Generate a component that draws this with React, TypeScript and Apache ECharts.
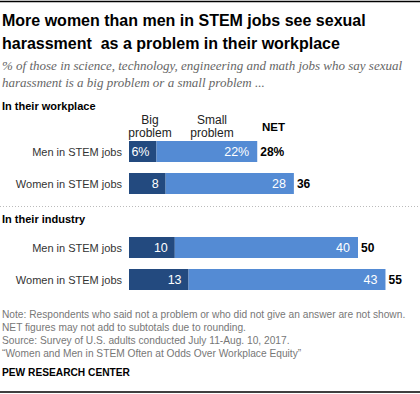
import React, { useEffect, useRef } from "react";
import * as echarts from "echarts";

const categories = ["Men in STEM jobs", "Women in STEM jobs"];
const workplaceBig = [6, 8];
const workplaceSmall = [22, 28];
const workplaceNet = [28, 36];
const industryBig = [10, 13];
const industrySmall = [40, 43];
const industryNet = [50, 55];

const DARK = "#234a7f";
const LIGHT = "#548bd4";
const FONT = "'Liberation Sans', Arial, sans-serif";

function seriesFor(idx: number, big: number[], small: number[], net: number[], pct: boolean) {
  const stack = "s" + idx;
  return [
    {
      type: "bar",
      xAxisIndex: idx,
      yAxisIndex: idx,
      stack,
      barWidth: 21,
      data: big,
      itemStyle: { color: DARK },
      label: {
        show: true,
        position: "insideRight",
        distance: 7,
        color: "#fff",
        fontSize: 12.5,
        fontFamily: FONT,
        formatter: (p: any) => (pct && p.dataIndex === 0 ? p.value + "%" : String(p.value)),
      },
    },
    {
      type: "bar",
      xAxisIndex: idx,
      yAxisIndex: idx,
      stack,
      barWidth: 21,
      data: small,
      itemStyle: { color: LIGHT },
      label: {
        show: true,
        position: "insideRight",
        distance: 8,
        color: "#fff",
        fontSize: 12.5,
        fontFamily: FONT,
        formatter: (p: any) => (pct && p.dataIndex === 0 ? p.value + "%" : String(p.value)),
      },
    },
    {
      type: "bar",
      xAxisIndex: idx,
      yAxisIndex: idx,
      stack,
      barWidth: 21,
      data: net.map(() => 0.001),
      itemStyle: { color: "transparent" },
      label: {
        show: true,
        position: "right",
        distance: 3,
        color: "#000",
        fontWeight: "bold",
        fontSize: 12,
        fontFamily: FONT,
        formatter: (p: any) => (pct && p.dataIndex === 0 ? net[p.dataIndex] + "%" : String(net[p.dataIndex])),
      },
    },
  ];
}

export default function App() {
  const ref = useRef<HTMLDivElement>(null);
  useEffect(() => {
    const chart = echarts.init(ref.current!, null, { renderer: "svg" });
    const grids = [
      { left: 129, width: 274.8, top: 135.5, height: 64 },
      { left: 129, width: 274.8, top: 231.5, height: 64 },
    ];
    const xAxis = grids.map((_, i) => ({
      type: "value",
      gridIndex: i,
      min: 0,
      max: 60,
      show: false,
    }));
    const yAxis = grids.map((_, i) => ({
      type: "category",
      gridIndex: i,
      data: categories,
      inverse: true,
      axisLine: { show: false },
      axisTick: { show: false },
      axisLabel: { color: "#333", fontSize: 11, fontFamily: FONT, margin: 7 },
    }));
    const txt = (x: number, y: number, text: string, style: any) => ({
      type: "text",
      x,
      y,
      style: { text, fontFamily: FONT, textVerticalAlign: "middle", verticalAlign: "middle", ...style },
    });
    const serif = { fontSize: 13, fontStyle: "italic", fontFamily: "'Liberation Serif', serif", fill: "#666" };
    const note = { fontSize: 10.2, fill: "#777" };
    const head = { fontSize: 12, fill: "#222", align: "center", textAlign: "center" };
    chart.setOption({
      animation: false,
      grid: grids,
      xAxis,
      yAxis,
      series: [
        ...seriesFor(0, workplaceBig, workplaceSmall, workplaceNet, true),
        ...seriesFor(1, industryBig, industrySmall, industryNet, false),
      ],
      graphic: [
        { type: "line", shape: { x1: 0, y1: 1.5, x2: 420, y2: 1.5 }, style: { stroke: "#000", lineWidth: 1.5 } },
        txt(2, 20, "More women than men in STEM jobs see sexual", { fontSize: 16, fontWeight: "bold", fill: "#000" }),
        txt(2, 43, "harassment  as a problem in their workplace", { fontSize: 16, fontWeight: "bold", fill: "#000" }),
        txt(2, 65, "% of those in science, technology, engineering and math jobs who say sexual", serif),
        txt(2, 82, "harassment is a big problem or a small problem ...", serif),
        txt(2, 106, "In their workplace", { fontSize: 11, fontWeight: "bold", fill: "#000" }),
        txt(150, 120, "Big", head),
        txt(150, 133, "problem", head),
        txt(212, 120, "Small", head),
        txt(212, 133, "problem", head),
        txt(262, 127, "NET", { fontSize: 11.5, fontWeight: "bold", fill: "#000" }),
        {
          type: "line",
          shape: { x1: 0, y1: 206.5, x2: 418, y2: 206.5 },
          style: { stroke: "#bbb", lineWidth: 1, lineDash: [1, 2] },
        },
        txt(2, 219, "In their industry", { fontSize: 11, fontWeight: "bold", fill: "#000" }),
        txt(2, 314, "Note: Respondents who said not a problem or who did not give an answer are not shown.", note),
        txt(2, 327, "NET figures may not add to subtotals due to rounding.", note),
        txt(2, 340, "Source: Survey of U.S. adults conducted July 11-Aug. 10, 2017.", note),
        txt(2, 353, "\u201cWomen and Men in STEM Often at Odds Over Workplace Equity\u201d", note),
        txt(2, 372, "PEW RESEARCH CENTER", { fontSize: 10.2, fontWeight: "bold", fill: "#000" }),
        { type: "line", shape: { x1: 0, y1: 392, x2: 420, y2: 392 }, style: { stroke: "#000", lineWidth: 1.5 } },
      ],
    });
    return () => chart.dispose();
  }, []);
  return <div ref={ref} style={{ width: 420, height: 394, position: "absolute", left: 0, top: 0 }} />;
}
